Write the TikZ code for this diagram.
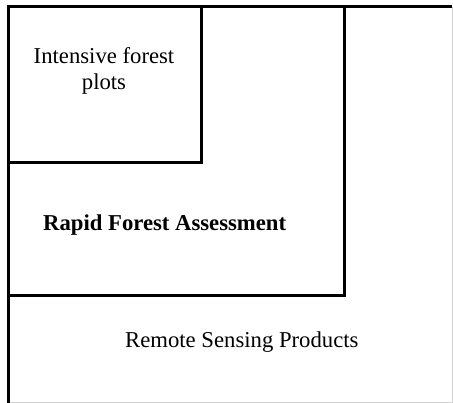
\documentclass[tikz,border=0pt]{standalone}
\usepackage{fontspec}
\setmainfont{Liberation Serif}
\usetikzlibrary{positioning}

\begin{document}
\begin{tikzpicture}[x=1pt, y=-1pt,
        frame/.style={line width=3pt},
        txt/.style={font=\fontsize{22.7}{26}\selectfont, align=center, inner sep=0pt}]
        \useasboundingbox (0,0) rectangle (453,403);

        % Corner points of the boxes
        \coordinate (tl) at (8,7);
        \coordinate (tr) at (452,7);
        \coordinate (bl) at (8,403);
        \coordinate (br) at (452,403);

        % Remote sensing (outer) box
        \draw[gray!35, line width=1pt] (tr) -- (br) -- (bl);
        \draw[frame] (bl) -- (tl) -- (tr);

        % Rapid forest assessment box
        \draw[frame] (tl) rectangle (344,296);

        % Intensive forest plots box
        \draw[frame] (tl) rectangle (201,163);

        % Labels
        \node (plots) [txt] at (104,71) {Intensive forest\\plots};
        \node (rfa) [txt, font=\fontsize{22.7}{26}\selectfont\bfseries, anchor=west] at (43,225.5) {Rapid Forest Assessment};
        \node (rs) [txt, anchor=west] at (125,342.5) {Remote Sensing Products};
    \end{tikzpicture}
\end{document}
